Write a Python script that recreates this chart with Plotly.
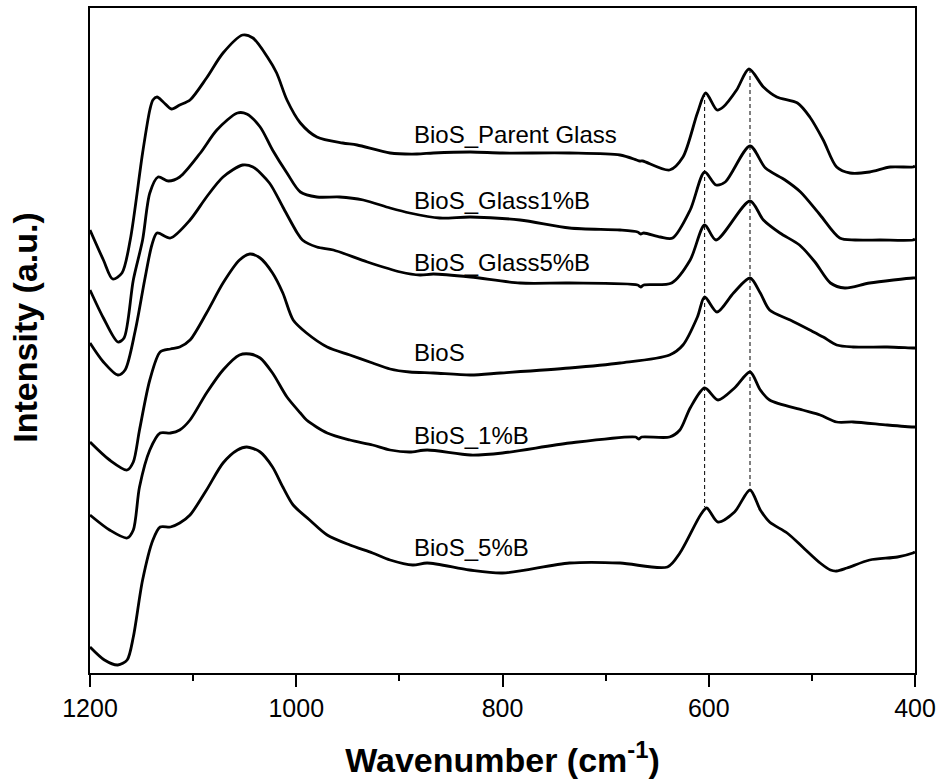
import plotly.graph_objects as go

# ---- data (wavenumber in cm^-1, intensity in arbitrary units, already offset) ----
wn_parent = [1200, 1187, 1178, 1169, 1161, 1149, 1142, 1139, 1135, 1129, 1121, 1113, 1103, 1087, 1071, 1052,
             1042, 1028, 1019, 1009, 996, 980, 955, 941, 909, 883, 867, 831, 800, 735, 686, 670, 667, 664,
             638, 625, 611, 603, 592, 586, 573, 561, 547, 534, 514, 502, 489, 476, 463, 444, 424, 402, 400]
int_parent = [443, 413, 394, 400, 433, 520, 563, 573, 576, 571, 564, 568, 573, 595, 620, 638,
              635, 616, 600, 573, 550, 536, 530, 528, 520, 519, 520, 521, 520, 520, 518, 513, 512, 512,
              503, 516, 560, 580, 563, 566, 583, 604, 586, 576, 570, 556, 533, 506, 500, 501, 506, 506, 507]

wn_g1 = [1200, 1187, 1173, 1167, 1158, 1149, 1142, 1134, 1124, 1113, 1093, 1077, 1057, 1048, 1035, 1023,
         1009, 996, 980, 958, 935, 909, 890, 861, 831, 783, 735, 686, 669, 666, 663, 647, 635, 618, 604,
         593, 584, 560, 545, 526, 511, 492, 473, 458, 434, 402, 400]
int_g1 = [383, 355, 331, 335, 393, 433, 480, 496, 492, 496, 520, 543, 560, 559, 546, 523,
          500, 481, 476, 476, 473, 465, 460, 455, 456, 453, 445, 443, 441, 439, 440, 436, 435, 463, 501,
          488, 491, 527, 505, 493, 481, 458, 435, 433, 433, 433, 434]

wn_g5 = [1200, 1187, 1173, 1166, 1156, 1147, 1140, 1135, 1122, 1103, 1087, 1071, 1052, 1042, 1026, 1013,
         999, 994, 980, 964, 931, 899, 880, 867, 831, 783, 735, 669, 666, 663, 636, 618, 604, 593, 560,
         547, 531, 512, 497, 482, 468, 444, 402, 400]
int_g5 = [330, 311, 298, 303, 343, 393, 428, 440, 435, 453, 476, 496, 508, 506, 490, 466,
          440, 433, 426, 423, 411, 401, 398, 399, 396, 390, 390, 388, 386, 388, 390, 413, 448, 433, 472,
          453, 440, 428, 411, 390, 385, 390, 395, 395]

wn_bios = [1200, 1181, 1164, 1158, 1152, 1142, 1132, 1122, 1113, 1103, 1087, 1071, 1055, 1045, 1035, 1023,
           1013, 1003, 990, 970, 948, 926, 909, 890, 867, 831, 802, 735, 686, 638, 625, 611, 604, 592, 576,
           560, 550, 541, 521, 502, 489, 476, 460, 427, 402, 400]
int_bios = [231, 213, 203, 211, 243, 293, 321, 324, 326, 333, 360, 390, 413, 419, 415, 400,
            380, 353, 340, 326, 318, 310, 304, 301, 300, 298, 300, 305, 310, 318, 328, 356, 376, 361, 380,
            395, 380, 363, 353, 343, 336, 328, 326, 326, 325, 325]

wn_b1 = [1200, 1181, 1164, 1158, 1152, 1142, 1132, 1122, 1113, 1103, 1087, 1071, 1055, 1045, 1035, 1023,
         1009, 996, 990, 970, 948, 926, 909, 890, 873, 831, 800, 735, 671, 668, 665, 638, 628, 618, 604,
         591, 575, 560, 550, 541, 509, 492, 476, 460, 427, 402, 400]
int_b1 = [158, 143, 135, 143, 186, 223, 240, 240, 243, 253, 280, 303, 318, 319, 315, 300,
          276, 260, 253, 240, 233, 228, 223, 221, 223, 218, 220, 230, 236, 234, 236, 236, 243, 265, 285,
          273, 285, 301, 283, 273, 263, 258, 251, 251, 248, 246, 246]

wn_b5 = [1200, 1186, 1173, 1164, 1158, 1149, 1139, 1132, 1122, 1113, 1103, 1087, 1071, 1057, 1048, 1035,
         1023, 1013, 1003, 987, 970, 948, 926, 909, 887, 873, 832, 800, 735, 686, 640, 628, 608, 602, 591,
         575, 560, 550, 541, 524, 509, 492, 482, 476, 466, 444, 417, 402, 400]
int_b5 = [26, 13, 8, 13, 36, 93, 133, 146, 146, 150, 158, 183, 210, 223, 226, 221,
          206, 186, 168, 153, 138, 128, 120, 113, 108, 110, 103, 100, 110, 110, 106, 120, 158, 165, 151,
          161, 183, 163, 151, 140, 126, 110, 103, 102, 105, 113, 116, 120, 121]

series_names = ["BioS_Parent Glass", "BioS_Glass1%B", "BioS_Glass5%B", "BioS", "BioS_1%B", "BioS_5%B"]
series_x = [wn_parent, wn_g1, wn_g5, wn_bios, wn_b1, wn_b5]
series_y = [int_parent, int_g1, int_g5, int_bios, int_b1, int_b5]

label_wn = 888
label_y = [539, 473, 411, 321, 238, 126]

band_wn = [604, 560]
band_top = [580, 604]
band_bottom = [166, 183]

x_ticks = [1200, 1000, 800, 600, 400]
x_minor = [1100, 900, 700, 500]

FONT = "Arial, Liberation Sans, sans-serif"

fig = go.Figure()
for name, xs, ys in zip(series_names, series_x, series_y):
    fig.add_trace(go.Scatter(x=xs, y=ys, mode="lines", name=name,
                             line=dict(color="black", width=2.8, shape="spline", smoothing=0.8),
                             showlegend=False, hoverinfo="skip"))

for b, t, btm in zip(band_wn, band_top, band_bottom):
    fig.add_trace(go.Scatter(x=[b, b], y=[t, btm], mode="lines",
                             line=dict(color="black", width=1, dash="4px,3px"),
                             showlegend=False, hoverinfo="skip"))

for name, y in zip(series_names, label_y):
    fig.add_annotation(x=label_wn, y=y, text=name, showarrow=False, xanchor="left", yanchor="middle",
                       font=dict(family=FONT, size=24, color="black"))

# y-axis title placed as a rotated annotation to match the reference position
fig.add_annotation(xref="paper", yref="paper", x=-0.079, y=0.519, text="<b>Intensity (a.u.)</b>",
                   textangle=-90, showarrow=False, xanchor="center", yanchor="middle",
                   font=dict(family=FONT, size=34, color="black"))

fig.update_layout(
    width=939, height=783,
    margin=dict(l=90, r=24, t=8, b=110),
    paper_bgcolor="white", plot_bgcolor="white",
    font=dict(family=FONT, color="black"),
    xaxis=dict(range=[1200, 400], tickvals=x_ticks, ticks="outside", ticklen=12, tickwidth=2,
               tickcolor="black", showline=True, linewidth=2, linecolor="black", mirror=True,
               showgrid=False, zeroline=False, tickfont=dict(family=FONT, size=25), automargin=False,
               minor=dict(tickvals=x_minor, ticks="outside", ticklen=6, tickwidth=2,
                          tickcolor="black", showgrid=False),
               title=dict(text="<b>Wavenumber (cm<sup>-1</sup>)</b>", font=dict(family=FONT, size=34),
                          standoff=27)),
    yaxis=dict(range=[0, 665], showticklabels=False, ticks="", showline=True, linewidth=2,
               linecolor="black", mirror=True, showgrid=False, zeroline=False, automargin=False),
)

fig.write_html("out.html")
